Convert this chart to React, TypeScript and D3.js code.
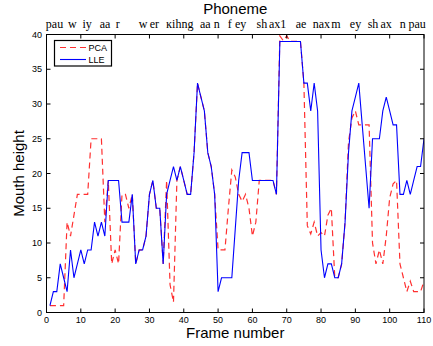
import React from 'react';
import * as d3 from 'd3';

const frames: number[] = d3.range(1, 111);

const lleValues: number[] = [
  1, 3, 3, 7, 5, 3, 9, 5, 7, 9,
  7, 9, 9, 13, 11, 13, 11, 19, 19, 19,
  19, 13, 13, 13, 17, 7, 9, 9, 11, 17,
  19, 15, 15, 7, 17, 19, 21, 19, 21, 19,
  17, 17, 23, 33, 31, 29, 23, 21, 17, 3,
  5, 5, 5, 5, 12, 19, 23, 23, 23, 19,
  19, 19, 19, 19, 19, 19, 17, 39, 39, 39,
  39, 39, 39, 39, 33, 33, 29, 33, 29, 9,
  5, 7, 7, 5, 5, 7, 13, 23, 29, 31,
  33, 27, 21, 15, 25, 25, 25, 29, 31, 29,
  27, 27, 17, 17, 19, 17, 19, 21, 21, 25,
];

const pcaValues: number[] = [
  1, 1, 1, 1, 1, 13, 11, 14, 17, 17,
  17, 17, 25, 25, 25, 25, 13, 19, 7, 9,
  7, 17, 17, 15, 17, 7, 9, 9, 11, 17,
  19, 15, 15, 7, 19, 4, 1.5, 19, 21, 19,
  17, 17, 23, 33, 31, 29, 23, 21, 17, 9,
  9, 9, 15, 20.5, 19.5, 17, 16, 17, 15, 11,
  13, 19, 19, 19, 19, 19, 17, 39.8, 39.1, 39.8,
  39, 39, 39, 39, 33, 12.5, 11.3, 13, 11, 11.5,
  11, 14, 15, 5, 5, 7, 13, 24.5, 28, 29,
  27, 27, 27, 27, 10, 7, 9, 7, 11, 16.5,
  18.5, 19, 7, 5, 3, 4.5, 3, 3, 3, 4.5,
];

const xTicks: number[] = [0, 10, 20, 30, 40, 50, 60, 70, 80, 90, 100, 110];
const yTicks: number[] = [0, 5, 10, 15, 20, 25, 30, 35, 40];

const phonemeLabels: string[] = [
  'pau', 'w', 'iy', 'aa', 'r', 'w', 'er', 'ĸ', 'ihng', 'aa', 'n', 'f', 'ey',
  'sh', 'ax1', 'ae', 'nax', 'm', 'ey', 'sh', 'ax', 'n', 'pau',
];
const phonemeStarts: number[] = [
  -0.2, 6.3, 10.5, 15.5, 20.2, 26.9, 30.1, 34.8, 36.6, 44.7, 48.7, 52.8, 54.9,
  61.2, 64.8, 72.6, 77.6, 83, 88.4, 93.6, 97.3, 102.9, 105.5,
];

const W = 433;
const H = 346;
const left = 46.5;
const right = 424;
const top = 34.5;
const bottom = 312.5;

export default function App() {
  const x = d3.scaleLinear().domain([0, 110]).range([left, right]);
  const y = d3.scaleLinear().domain([0, 40]).range([bottom, top]);
  const line = d3
    .line<number>()
    .x((_, i) => x(frames[i]))
    .y((d) => y(d));

  const sans = 'Liberation Sans, Arial, Helvetica, sans-serif';
  const serif = 'Liberation Serif, Times New Roman, serif';

  return (
    <div style={{ position: 'fixed', left: 0, top: 0 }}>
      <svg width={W} height={H} style={{ display: 'block', background: '#fff' }}>
        <defs>
          <clipPath id="plotClip">
            <rect x={left} y={top} width={right - left} height={bottom - top} />
          </clipPath>
        </defs>
        <rect x={0} y={0} width={W} height={H} fill="#fff" />

        <text x={(left + right) / 2} y={14} textAnchor="middle" fontFamily={sans} fontSize={15}>
          Phoneme
        </text>
        {phonemeLabels.map((p, i) => (
          <text key={'ph' + i} x={x(phonemeStarts[i])} y={28} fontFamily={serif} fontSize={12}>
            {p}
          </text>
        ))}

        <g clipPath="url(#plotClip)">
          <path d={line(pcaValues) || ''} fill="none" stroke="#ff3030" strokeWidth={1.2} strokeDasharray="6,4" />
          <path d={line(lleValues) || ''} fill="none" stroke="#0000ff" strokeWidth={1.1} />
        </g>

        <rect x={left} y={top} width={right - left} height={bottom - top} fill="none" stroke="#000" strokeWidth={1} />

        {xTicks.map((t) => (
          <g key={'xt' + t}>
            <line x1={x(t)} x2={x(t)} y1={bottom} y2={bottom - 4} stroke="#000" />
            <line x1={x(t)} x2={x(t)} y1={top} y2={top + 4} stroke="#000" />
            <text x={x(t)} y={323} textAnchor="middle" fontFamily={sans} fontSize={9}>
              {t}
            </text>
          </g>
        ))}
        {yTicks.map((t) => (
          <g key={'yt' + t}>
            <line x1={left} x2={left + 4} y1={y(t)} y2={y(t)} stroke="#000" />
            <line x1={right} x2={right - 4} y1={y(t)} y2={y(t)} stroke="#000" />
            <text x={42} y={y(t)} dy="0.35em" textAnchor="end" fontFamily={sans} fontSize={9}>
              {t}
            </text>
          </g>
        ))}

        <text x={(left + right) / 2} y={338} textAnchor="middle" fontFamily={sans} fontSize={15}>
          Frame number
        </text>
        <text
          transform={`translate(24, ${(top + bottom) / 2}) rotate(-90)`}
          textAnchor="middle"
          fontFamily={sans}
          fontSize={15}
        >
          Mouth height
        </text>

        <g>
          <rect x={54.5} y={40.5} width={57} height={25.5} fill="#fff" stroke="#000" strokeWidth={1.2} />
          <line x1={60} x2={86} y1={47.5} y2={47.5} stroke="#ff3030" strokeWidth={1.2} strokeDasharray="6,4" />
          <text x={88.5} y={50.5} fontFamily={sans} fontSize={9}>PCA</text>
          <line x1={60} x2={86} y1={59.5} y2={59.5} stroke="#0000ff" strokeWidth={1.1} />
          <text x={88.5} y={62.5} fontFamily={sans} fontSize={9}>LLE</text>
        </g>
      </svg>
    </div>
  );
}
